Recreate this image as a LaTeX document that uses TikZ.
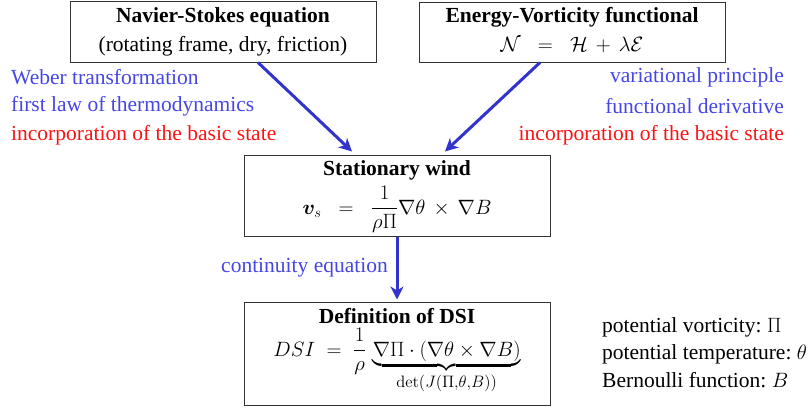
\documentclass[tikz,border=0pt]{standalone}
\usepackage{amsmath,bm,graphicx}
\usepackage[no-math]{fontspec}
\setmainfont{Liberation Serif}
\usetikzlibrary{calc,arrows.meta}
\definecolor{arrblue}{RGB}{50,50,205}
\definecolor{txtblue}{RGB}{70,70,230}
\definecolor{txtred}{RGB}{250,20,20}
\tikzset{
  box/.style={draw=black!80, line width=1pt, minimum width=306pt, inner sep=0pt},
  flow/.style={draw=arrblue, line width=3pt, -{Stealth[length=13pt,width=13pt,inset=4pt]}},
  lbl/.style={inner sep=0pt, font=\fontsize{21.5}{29}\selectfont},
}
\begin{document}
\begin{tikzpicture}[x=1pt,y=-1pt]
\useasboundingbox (0,0) rectangle (812,408);
\node[box, minimum height=61pt] (nse) at (223,31.5) {};
\node[lbl] (nset) at (223,17) {\textbf{Navier-Stokes equation}};
\node[lbl] (nsef) at (223,46) {(rotating frame, dry, friction)};

\node[box, minimum height=60pt] (evf) at (572,32) {};
\node[lbl] (evft) at (572,17) {\textbf{Energy-Vorticity functional}};
\node[lbl] (evff) at (572,45) {$\mathcal{N} \;\;=\;\; \mathcal{H} \,+\, \lambda\mathcal{E}$};

\node[box, minimum height=81pt] (sw) at (397,195.5) {};
\node[lbl] (swt) at (397,170) {\textbf{Stationary wind}};
\node[lbl, anchor=base] (swf) at (397,214) {$\bm{v}_s \;\;=\;\; \dfrac{1}{\rho\Pi}\nabla\theta \,\times\, \nabla B$};

\node[box, minimum height=103pt] (dsi) at (397,353.5) {};
\node[lbl] (dsit) at (397,316) {\textbf{Definition of DSI}};
\node[lbl, anchor=base] (dsif) at (397,356) {$DSI \;=\; \dfrac{1}{\rho}\,\underbrace{\nabla\Pi\cdot(\nabla\theta\times\nabla B)}_{\rule{0pt}{14pt}\scalebox{1.15}{$\scriptstyle\det(J(\Pi,\theta,B))$}}$};

\draw[flow] ($(nse.south)+(35,0)$) -- ($(sw.north)+(-45,-3)$);
\draw[flow] ($(evf.south)+(-32,0)$) -- ($(sw.north)+(48,-3)$);
\draw[flow] (sw.south) -- ($(dsi.north)+(0,-2)$);

\node[lbl, anchor=west, text=txtblue] (l1) at (11,77) {Weber transformation};
\node[lbl, anchor=west, text=txtblue] (l2) at (11,106) {first law of thermodynamics};
\node[lbl, anchor=west, text=txtred] (l3) at (11,135) {incorporation of the basic state};
\node[lbl, anchor=east, text=txtblue] (r1) at (784,77) {variational principle};
\node[lbl, anchor=east, text=txtblue] (r2) at (784,106) {functional derivative};
\node[lbl, anchor=east, text=txtred] (r3) at (784,135) {incorporation of the basic state};
\node[lbl, anchor=east, text=txtblue] (ce) at (388,268) {continuity equation};
\node[lbl, anchor=west] (g1) at (602,327) {potential vorticity:\ $\Pi$};
\node[lbl, anchor=west] (g2) at (602,354) {potential temperature:\ $\theta$};
\node[lbl, anchor=west] (g3) at (602,380) {Bernoulli function:\ $B$};
\end{tikzpicture}
\end{document}
